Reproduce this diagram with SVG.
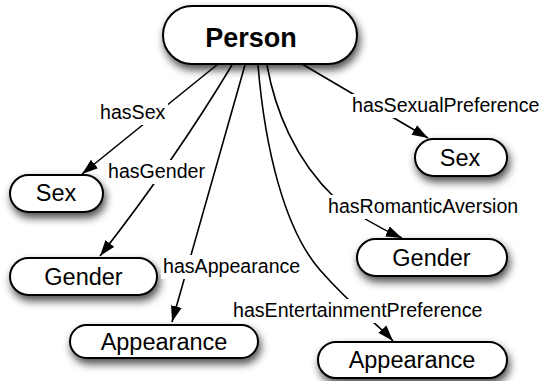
<svg xmlns="http://www.w3.org/2000/svg" width="541" height="381" viewBox="0 0 541 381">
<defs>
<filter id="sh" x="-20%" y="-30%" width="150%" height="190%">
<feDropShadow dx="2" dy="5" stdDeviation="4" flood-color="#000" flood-opacity="0.7"/>
</filter>
<marker id="ah" markerUnits="userSpaceOnUse" markerWidth="17" markerHeight="12" refX="16" refY="5.5" orient="auto">
<path d="M0,0 L16,5.5 L0,11 z" fill="#000"/>
</marker>
<style>
.node rect{fill:#fff;stroke:#000;stroke-width:2;filter:url(#sh)}
.node text{font-family:"Liberation Sans",Arial,sans-serif;font-size:23.5px;text-anchor:middle;fill:#000}
.edge{fill:none;stroke:#000;stroke-width:1.6;marker-end:url(#ah)}
.lbl rect{fill:#fff}
.lbl text{font-family:"Liberation Sans",Arial,sans-serif;font-size:19.6px;fill:#000}
</style>
</defs>
<rect width="541" height="381" fill="#fff"/>
<g id="connectors">
<path class="edge" d="M218,64 L82,174"/>
<path class="edge" d="M232,65 Q175,160 100,256"/>
<path class="edge" d="M245,65 L172,322"/>
<path class="edge" d="M258,65 C265,150 285,230 320,270 C355,310 376,322 393,341"/>
<path class="edge" d="M267,65 C275,110 295,160 335,198 C355,214 375,226 402,238"/>
<path class="edge" d="M302,64 L428,138"/>
</g>
<g id="n-person" class="node"><rect x="163" y="6" width="194" height="58" rx="29"/><text x="251" y="47" style="font-weight:bold;font-size:27px">Person</text></g>
<g id="n-sex1" class="node"><rect x="10" y="175" width="93" height="37" rx="18.5"/><text x="56" y="201">Sex</text></g>
<g id="n-gender1" class="node"><rect x="10" y="258" width="147" height="37" rx="18.5"/><text x="83.5" y="284.5">Gender</text></g>
<g id="n-appearance1" class="node"><rect x="70" y="325" width="188" height="33" rx="16.5"/><text x="164" y="350">Appearance</text></g>
<g id="n-sex2" class="node"><rect x="415" y="139" width="92" height="37" rx="18.5"/><text x="460" y="165.5">Sex</text></g>
<g id="n-gender2" class="node"><rect x="357" y="239" width="150" height="37" rx="18.5"/><text x="431.5" y="265.5">Gender</text></g>
<g id="n-appearance2" class="node"><rect x="318" y="342" width="189" height="36" rx="18"/><text x="412" y="367.5">Appearance</text></g>
<g id="labels">
<g class="lbl"><rect x="98" y="101" width="70" height="24"/><text x="100" y="119">hasSex</text></g>
<g class="lbl"><rect x="106" y="160" width="101" height="24"/><text x="108" y="178">hasGender</text></g>
<g class="lbl"><rect x="161" y="255" width="142" height="24"/><text x="163" y="273">hasAppearance</text></g>
<g class="lbl"><rect x="350" y="94" width="191" height="24"/><text x="352" y="112">hasSexualPreference</text></g>
<g class="lbl"><rect x="326" y="195" width="194" height="24"/><text x="328" y="213">hasRomanticAversion</text></g>
<g class="lbl"><rect x="231" y="299" width="256" height="24"/><text x="233" y="317">hasEntertainmentPreference</text></g>
</g>
</svg>
